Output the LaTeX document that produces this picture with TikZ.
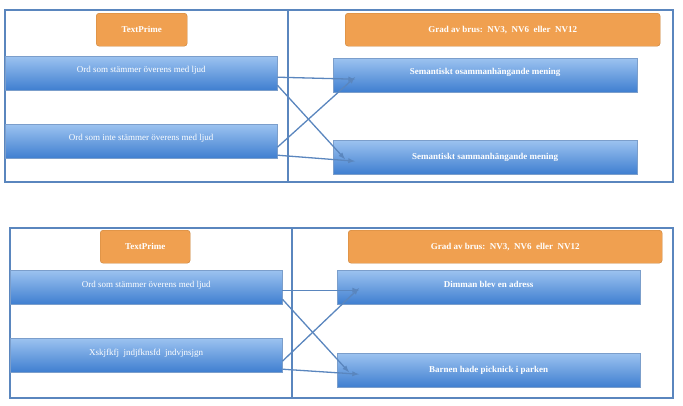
\documentclass[tikz,border=0pt]{standalone}
\usepackage{fontspec}
\setmainfont{Liberation Serif}
\definecolor{frame}{HTML}{5A86BE}
\definecolor{bluetop}{HTML}{9CC3F0}
\definecolor{bluebot}{HTML}{3F7FD0}
\definecolor{orangefill}{HTML}{F0A050}
\definecolor{orangeline}{HTML}{C8823A}
\begin{document}
\begin{tikzpicture}[x=1pt,y=-1pt,
  panel/.style={draw=frame,line width=1.6pt},
  bluebox/.style={rectangle,draw=frame!80,top color=bluetop,bottom color=bluebot,
    text=white,font=\small,inner sep=0pt,minimum height=34pt},
  headbox/.style={rectangle,rounded corners=3pt,draw=orangeline,fill=orangefill,
    text=white,font=\small\bfseries,inner sep=0pt,minimum height=33pt},
  link/.style={draw=frame,line width=1.3pt,-latex}]
  \useasboundingbox (0,0) rectangle (683,405);
  % Övre panel
  \draw[panel] (5,10) rectangle (673,182);
  \draw[panel] (288,10) -- (288,182);
  \node[headbox,minimum width=91pt,anchor=north west] (tp1) at (96,13) {TextPrime};
  \node[headbox,minimum width=315pt,anchor=north west] (nv1) at (345,13) {Grad av brus:\ \ NV3,\ \ NV6\ \ eller\ \ NV12};
  \node[bluebox,minimum width=272pt,anchor=north west] (ljud1) at (5,56) {\raisebox{8pt}{Ord som stämmer överens med ljud}};
  \node[bluebox,minimum width=272pt,anchor=north west] (inte1) at (5,124) {\raisebox{8pt}{Ord som inte stämmer överens med ljud}};
  \node[bluebox,minimum width=304pt,anchor=north west,font=\small\bfseries] (osam) at (333,58) {\raisebox{8pt}{Semantiskt osammanhängande mening}};
  \node[bluebox,minimum width=304pt,anchor=north west,font=\small\bfseries] (sam) at (333,140) {Semantiskt sammanhängande mening};
  \draw[link] ([yshift=-4pt]ljud1.east) -- ([xshift=22pt,yshift=-4pt]osam.west);
  \draw[link] ([yshift=-12pt]ljud1.east) -- ([xshift=12pt,yshift=-2pt]sam.west);
  \draw[link] ([yshift=-6pt]inte1.east) -- ([xshift=22pt,yshift=-2pt]osam.west);
  \draw[link] ([yshift=-14pt]inte1.east) -- ([xshift=22pt,yshift=-4pt]sam.west);
  % Nedre panel
  \draw[panel] (10,228) rectangle (673,398);
  \draw[panel] (292,228) -- (292,398);
  \node[headbox,minimum width=90pt,anchor=north west] (tp2) at (100,230) {TextPrime};
  \node[headbox,minimum width=314pt,anchor=north west] (nv2) at (348,230) {Grad av brus:\ \ NV3,\ \ NV6\ \ eller\ \ NV12};
  \node[bluebox,minimum width=272pt,anchor=north west] (ljud2) at (10,270) {\raisebox{5pt}{Ord som stämmer överens med ljud}};
  \node[bluebox,minimum width=272pt,anchor=north west] (nons) at (10,338) {\raisebox{5pt}{Xskjfkfj\ \ jndjfknsfd\ \ jndvjnsjgn}};
  \node[bluebox,minimum width=303pt,anchor=north west,font=\small\bfseries] (dimma) at (337,270) {\raisebox{5pt}{Dimman blev en adress}};
  \node[bluebox,minimum width=303pt,anchor=north west,font=\small\bfseries] (barn) at (337,353) {Barnen hade picknick i parken};
  \draw[link] ([yshift=-3pt]ljud2.east) -- ([xshift=22pt,yshift=-3pt]dimma.west);
  \draw[link] ([yshift=-12pt]ljud2.east) -- ([xshift=12pt,yshift=-2pt]barn.west);
  \draw[link] ([yshift=-6pt]nons.east) -- ([xshift=22pt,yshift=-1pt]dimma.west);
  \draw[link] ([yshift=-14pt]nons.east) -- ([xshift=22pt,yshift=-4pt]barn.west);
\end{tikzpicture}
\end{document}
